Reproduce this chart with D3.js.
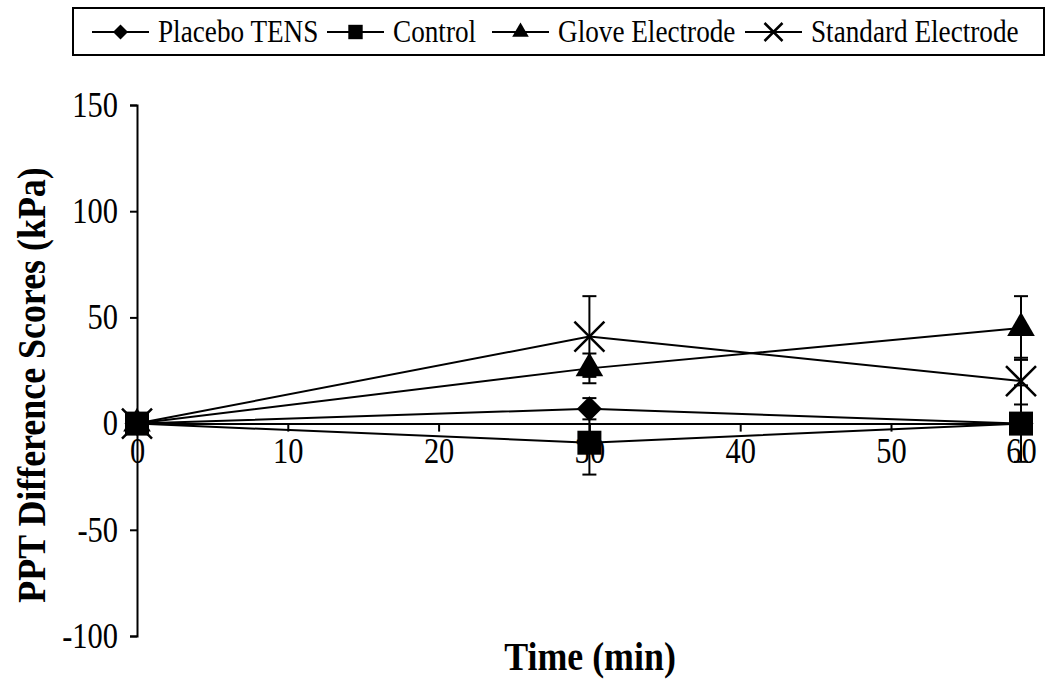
<!DOCTYPE html>
<html><head><meta charset="utf-8">
<script src="https://cdn.jsdelivr.net/npm/d3@7"></script>
<style>body{margin:0;background:#fff}svg{display:block}</style>
</head><body>
<svg id="c" width="1050" height="683"></svg>
<script>
const times = [0, 30, 60];
const seriesNames = ["Placebo TENS", "Control", "Glove Electrode", "Standard Electrode"];
const placeboVals = [0, 7, 0];
const placeboErr = [0, 5, 18];
const controlVals = [0, -9, 0];
const controlErr = [0, 15, 0];
const gloveVals = [0, 26, 45];
const gloveErr = [0, 7, 15];
const standardVals = [0, 41, 20];
const standardErr = [0, 19, 11];
const xTicks = [0, 10, 20, 30, 40, 50, 60];
const yTicks = [-100, -50, 0, 50, 100, 150];

const svg = d3.select("#c");
const font = "'Liberation Serif','Times New Roman',serif";
const x = d3.scaleLinear().domain([0, 50, 60]).range([137, 891, 1021]);
const y = d3.scaleLinear().domain([-100, 150]).range([636, 105]);
const fmt = d => String(d);
const sx = 0.87;

const series = [
  {name: seriesNames[0], vals: placeboVals, err: placeboErr, shape: "diamond"},
  {name: seriesNames[1], vals: controlVals, err: controlErr, shape: "square"},
  {name: seriesNames[2], vals: gloveVals, err: gloveErr, shape: "triangle"},
  {name: seriesNames[3], vals: standardVals, err: standardErr, shape: "x"}
];

function marker(g, shape, s) {
  if (shape === "diamond") {
    g.append("path").attr("d", d3.symbol(d3.symbolSquare, 312 * s * s)()).attr("transform", "rotate(45)").attr("fill", "#000");
  } else if (shape === "square") {
    g.append("path").attr("d", d3.symbol(d3.symbolSquare, 576 * s * s)()).attr("fill", "#000");
  } else if (shape === "triangle") {
    g.append("path").attr("d", d3.symbol(d3.symbolTriangle, 330 * s * s)()).attr("fill", "#000");
  } else {
    const r = 15 * s;
    g.append("path").attr("d", `M${-r},${-r}L${r},${r}M${-r},${r}L${r},${-r}`)
      .attr("stroke", "#000").attr("stroke-width", 2.5).attr("fill", "none");
  }
}

// Y axis
const yAxis = svg.append("g").attr("transform", `translate(${x(0)},0)`)
  .call(d3.axisLeft(y).tickValues(yTicks).tickFormat(fmt).tickSize(7).tickPadding(12));
yAxis.select(".domain").attr("stroke-width", 2);
yAxis.selectAll(".tick line").attr("stroke-width", 2);
yAxis.selectAll("text").attr("font-family", font).attr("font-size", 35).attr("fill", "#000")
  .attr("x", -19 / sx).attr("transform", `scale(${sx},1)`);

// X axis at zero
const xAxis = svg.append("g").attr("transform", `translate(0,${y(0)})`)
  .call(d3.axisBottom(x).tickValues(xTicks).tickFormat(fmt).tickSize(8).tickPadding(7).tickSizeOuter(0));
xAxis.select(".domain").attr("stroke-width", 2);
xAxis.selectAll(".tick line").attr("stroke-width", 2);
xAxis.selectAll("text").attr("font-family", font).attr("font-size", 35).attr("fill", "#000")
  .attr("transform", `scale(${sx},1)`);

// lines
const line = d3.line().x((d, i) => x(times[i])).y(d => y(d));
series.forEach(s => {
  svg.append("path").attr("d", line(s.vals)).attr("fill", "none").attr("stroke", "#000").attr("stroke-width", 2);
});

// error bars
series.forEach(s => {
  s.vals.forEach((v, i) => {
    const e = s.err[i];
    if (!e) return;
    const g = svg.append("g").attr("stroke", "#000").attr("stroke-width", 2);
    const cx = x(times[i]);
    g.append("line").attr("x1", cx).attr("x2", cx).attr("y1", y(v + e)).attr("y2", y(v - e));
    [v + e, v - e].forEach(t => g.append("line").attr("x1", cx - 7).attr("x2", cx + 7).attr("y1", y(t)).attr("y2", y(t)));
  });
});

// markers
[3, 2, 0, 1].forEach(k => {
  const s = series[k];
  s.vals.forEach((v, i) => {
    const g = svg.append("g").attr("transform", `translate(${x(times[i])},${y(v)})`);
    marker(g, s.shape, 1);
  });
});

// axis titles
svg.append("text").attr("transform", "translate(590,670) scale(0.92,1)").attr("text-anchor", "middle")
  .attr("font-family", font).attr("font-weight", "bold").attr("font-size", 39).text("Time (min)");
svg.append("text").attr("transform", "translate(45,385) rotate(-90) scale(0.92,1)").attr("text-anchor", "middle")
  .attr("font-family", font).attr("font-weight", "bold").attr("font-size", 39).text("PPT Difference Scores (kPa)");

// legend
svg.append("rect").attr("x", 73).attr("y", 8).attr("width", 971).attr("height", 47)
  .attr("fill", "none").attr("stroke", "#000").attr("stroke-width", 2);
const legX = [92, 327, 492, 745];
series.forEach((s, k) => {
  const g = svg.append("g").attr("transform", `translate(${legX[k]},32)`);
  g.append("line").attr("x1", 0).attr("x2", 57).attr("stroke", "#000").attr("stroke-width", 2);
  const m = g.append("g").attr("transform", "translate(28.5,0)");
  marker(m, s.shape, 0.6);
  g.append("text").attr("transform", "translate(66,10) scale(0.85,1)").attr("font-family", font).attr("font-size", 32).text(s.name);
});
</script>
</body></html>
